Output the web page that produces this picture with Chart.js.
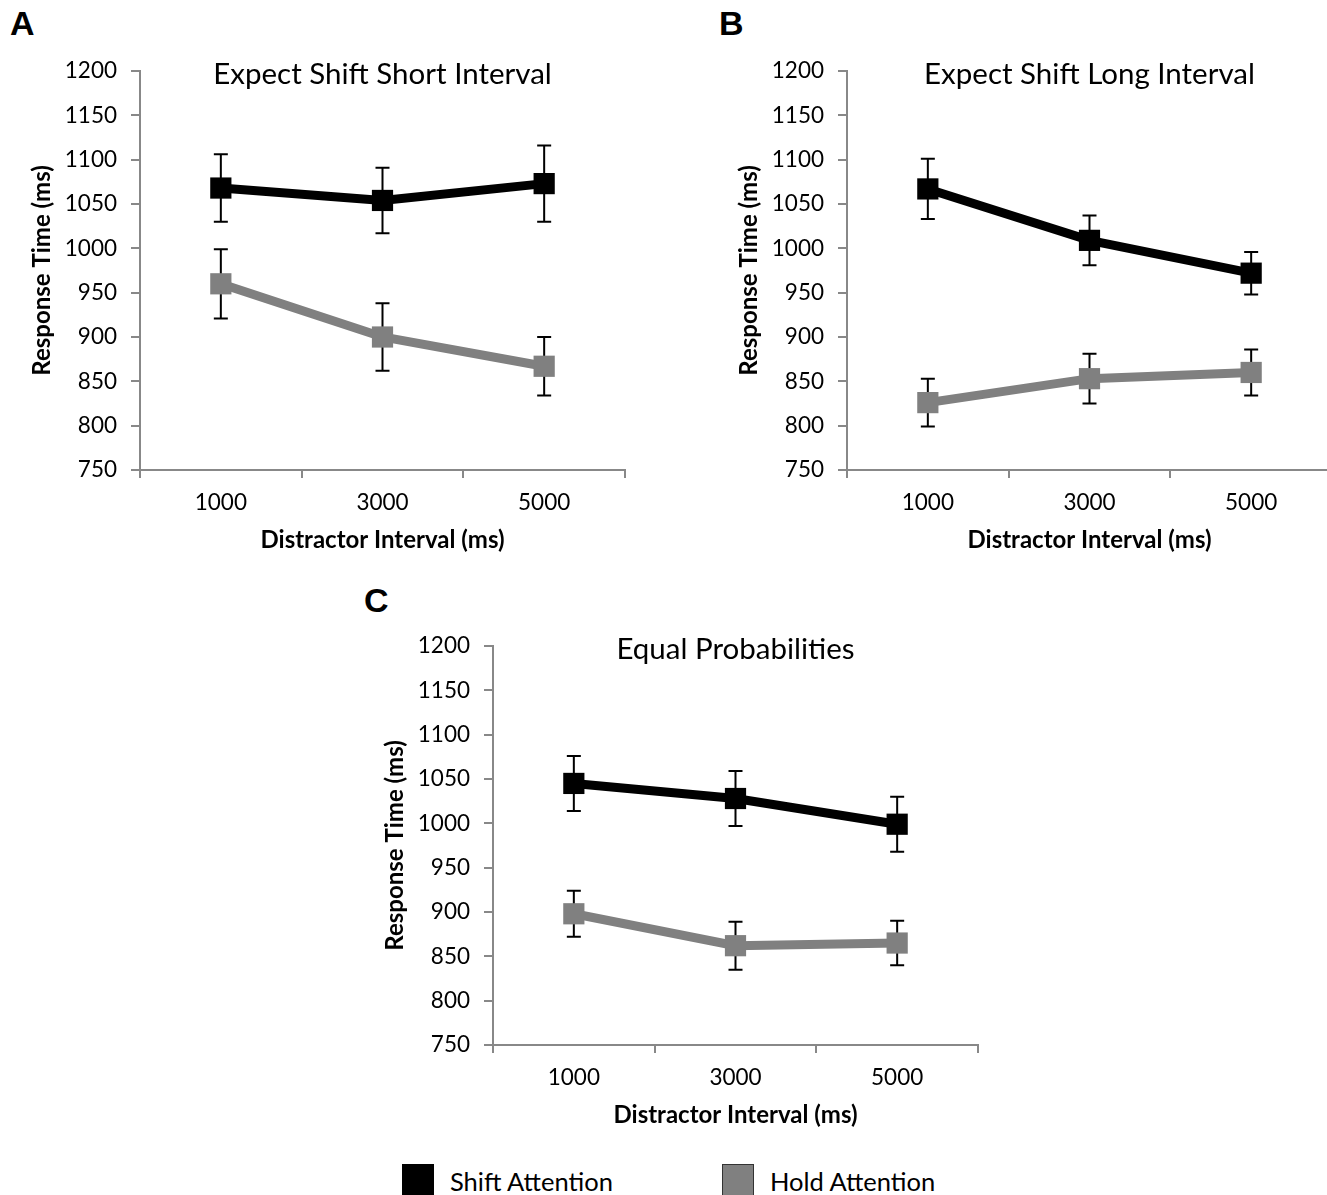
<!DOCTYPE html>
<html>
<head>
<meta charset="utf-8">
<script src="https://cdn.jsdelivr.net/npm/chart.js@4"></script>
<style>
  html, body { margin: 0; padding: 0; background: #fff; width: 1327px; height: 1195px; overflow: hidden; }
  .wrap { position: absolute; width: 640px; height: 520px; }
  .panel { position: absolute; font-family: "Liberation Sans", Arial, sans-serif; font-weight: bold; font-size: 34px; color: #000; }
  .leg { position: absolute; font-family: Lato, sans-serif; font-size: 25.5px; color: #000; white-space: nowrap; }
  .sw { position: absolute; width: 30px; height: 30px; border: 1px solid #000; }
</style>
</head>
<body>
<div class="panel" style="left:10px;top:4px;">A</div>
<div class="panel" style="left:719px;top:4px;">B</div>
<div class="panel" style="left:364px;top:581px;">C</div>

<div class="wrap" style="left:0px;top:40px;"><canvas id="cA"></canvas></div>
<div class="wrap" style="left:707px;top:40px;"><canvas id="cB"></canvas></div>
<div class="wrap" style="left:353px;top:615px;"><canvas id="cC"></canvas></div>

<div class="sw" style="left:402px;top:1164px;background:#000;"></div>
<div class="leg" style="left:450px;top:1166px;">Shift Attention</div>
<div class="sw" style="left:722px;top:1164px;background:#808080;border-color:#333;"></div>
<div class="leg" style="left:770px;top:1166px;">Hold Attention</div>

<script>
// ---- data ----
const categories = ["1000", "3000", "5000"];
const seriesNames = ["Shift Attention", "Hold Attention"];

const titleA = "Expect Shift Short Interval";
const shiftA = [1068, 1054, 1073];
const shiftErrA = [38, 37, 43];
const holdA = [960, 900, 867];
const holdErrA = [39, 38, 33];

const titleB = "Expect Shift Long Interval";
const shiftB = [1067, 1009, 972];
const shiftErrB = [34, 28, 24];
const holdB = [826, 853, 860];
const holdErrB = [27, 28, 26];

const titleC = "Equal Probabilities";
const shiftC = [1045, 1028, 999];
const shiftErrC = [31, 31, 31];
const holdC = [898, 862, 865];
const holdErrC = [26, 27, 25];

const yMin = 750, yMax = 1200, yStep = 50;
const xTitle = "Distractor Interval (ms)";
const yTitle = "Response Time (ms)";

// ---- plugins ----
const errorBarPlugin = {
  id: 'errorBars',
  beforeDatasetsDraw(chart) {
    const ctx = chart.ctx;
    const yScale = chart.scales.y;
    chart.data.datasets.forEach((ds, i) => {
      if (!ds.errors) return;
      const meta = chart.getDatasetMeta(i);
      ctx.save();
      ctx.strokeStyle = '#000';
      ctx.lineWidth = 2;
      meta.data.forEach((pt, j) => {
        const v = ds.data[j], e = ds.errors[j];
        const yt = yScale.getPixelForValue(v + e);
        const yb = yScale.getPixelForValue(v - e);
        const x = pt.x;
        const cap = 7;
        ctx.beginPath();
        ctx.moveTo(x, yt); ctx.lineTo(x, yb);
        ctx.moveTo(x - cap, yt); ctx.lineTo(x + cap, yt);
        ctx.moveTo(x - cap, yb); ctx.lineTo(x + cap, yb);
        ctx.stroke();
      });
      ctx.restore();
    });
  }
};

const innerTitlePlugin = {
  id: 'innerTitle',
  afterDraw(chart, args, opts) {
    const ctx = chart.ctx;
    const a = chart.chartArea;
    ctx.save();
    ctx.font = '29.5px Lato, sans-serif';
    ctx.fillStyle = '#000';
    ctx.textAlign = 'center';
    ctx.textBaseline = 'middle';
    ctx.fillText(opts.text, (a.left + a.right) / 2, a.top + 3);
    ctx.restore();
  }
};

function makeChart(id, title, shift, shiftErr, hold, holdErr) {
  return new Chart(document.getElementById(id), {
    type: 'line',
    data: {
      labels: categories,
      datasets: [
        {
          label: seriesNames[0], data: shift, errors: shiftErr,
          borderColor: '#000', backgroundColor: '#000', borderWidth: 9,
          pointStyle: 'rect', pointRadius: 15, pointBorderWidth: 0,
          pointBackgroundColor: '#000', tension: 0
        },
        {
          label: seriesNames[1], data: hold, errors: holdErr,
          borderColor: '#808080', backgroundColor: '#808080', borderWidth: 9,
          pointStyle: 'rect', pointRadius: 15, pointBorderWidth: 0,
          pointBackgroundColor: '#808080', tension: 0
        }
      ]
    },
    options: {
      responsive: true,
      maintainAspectRatio: false,
      animation: false,
      devicePixelRatio: 1,
      layout: { padding: { top: 31, right: 13, left: 0, bottom: 0 } },
      plugins: {
        legend: { display: false },
        tooltip: { enabled: false },
        innerTitle: { text: title }
      },
      scales: {
        x: {
          type: 'category',
          offset: true,
          grid: { offset: true, drawOnChartArea: false, drawTicks: true, tickLength: 8, color: '#888', lineWidth: 2 },
          border: { display: true, color: '#888', width: 2 },
          ticks: { color: '#000', font: { family: 'Lato, sans-serif', size: 22.5 }, padding: 11, maxRotation: 0 },
          title: { display: true, text: xTitle, color: '#000', font: { family: 'Lato, sans-serif', size: 24, weight: 'bold' }, padding: { top: 0, bottom: 5 } },
          afterFit(s) { s.height = 90; }
        },
        y: {
          min: yMin, max: yMax,
          grid: { drawOnChartArea: false, drawTicks: true, tickLength: 9, color: '#888', lineWidth: 2 },
          border: { display: true, color: '#888', width: 2 },
          ticks: { stepSize: yStep, color: '#000', font: { family: 'Lato, sans-serif', size: 22.5 }, padding: 14,
                   callback: (v) => String(v) },
          title: { display: true, text: yTitle, color: '#000', font: { family: 'Lato, sans-serif', size: 24, weight: 'bold' }, padding: { top: 28, bottom: 0 } },
          afterFit(s) { s.width = 140; }
        }
      }
    },
    plugins: [errorBarPlugin, innerTitlePlugin]
  });
}

makeChart('cA', titleA, shiftA, shiftErrA, holdA, holdErrA);
makeChart('cB', titleB, shiftB, shiftErrB, holdB, holdErrB);
makeChart('cC', titleC, shiftC, shiftErrC, holdC, holdErrC);
</script>
</body>
</html>
